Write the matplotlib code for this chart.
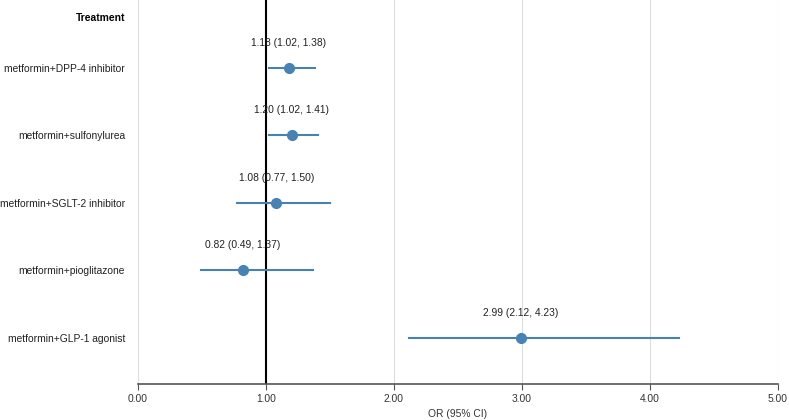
import matplotlib

matplotlib.use("Agg")
import matplotlib.pyplot as plt

treatments = [
    "metformin+DPP-4 inhibitor",
    "metformin+sulfonylurea",
    "metformin+SGLT-2 inhibitor",
    "metformin+pioglitazone",
    "metformin+GLP-1 agonist",
]
odds_ratio = [1.18, 1.20, 1.08, 0.82, 2.99]
ci_low = [1.02, 1.02, 0.77, 0.49, 2.12]
ci_high = [1.38, 1.41, 1.50, 1.37, 4.23]
x_ticks = [0, 1, 2, 3, 4, 5]

plt.rcParams["font.family"] = ["Liberation Sans", "DejaVu Sans"]
color = "#4682B4"
fs = 7.4

fig = plt.figure(figsize=(7.89, 4.2), dpi=100)
ax = fig.add_axes([138 / 789, 1 - 384 / 420, 640 / 789, 384 / 420])

rows = list(range(len(treatments)))
for i in rows:
    ax.plot([ci_low[i], ci_high[i]], [i, i], color=color, linewidth=1.5, zorder=3)
    ax.plot(odds_ratio[i], i, "o", color=color, markersize=7, zorder=4)
    ax.text(
        odds_ratio[i], i - 0.37,
        f"{odds_ratio[i]:.2f} ({ci_low[i]:.2f}, {ci_high[i]:.2f})",
        ha="center", va="center", fontsize=fs, color="#222222",
    )

ax.axvline(1, color="black", linewidth=1.5, zorder=2)

ax.set_xlim(0, 5)
ax.set_ylim(4.68, -1)
ax.set_xticks(x_ticks)
ax.set_xticklabels([f"{v:.2f}" for v in x_ticks], fontsize=fs, color="#333333")
ax.set_yticks(rows)
ax.set_yticklabels(treatments, fontsize=fs, color="#222222")
ax.tick_params(axis="y", length=0, pad=9.4)
ax.tick_params(axis="x", length=4, color="#555555", pad=3)
ax.text(-0.1, -0.73, "Treatment", ha="right", va="center",
        fontsize=fs, fontweight="bold", transform=ax.transData)

ax.grid(axis="x", color="#dddddd", linewidth=0.8)
ax.set_axisbelow(True)
for side in ["top", "right", "left"]:
    ax.spines[side].set_visible(False)
ax.spines["bottom"].set_color("#555555")
ax.spines["bottom"].set_linewidth(1.2)

ax.set_xlabel("OR (95% CI)", fontsize=fs, color="#333333", labelpad=4)

fig.savefig("out.png", dpi=100)
